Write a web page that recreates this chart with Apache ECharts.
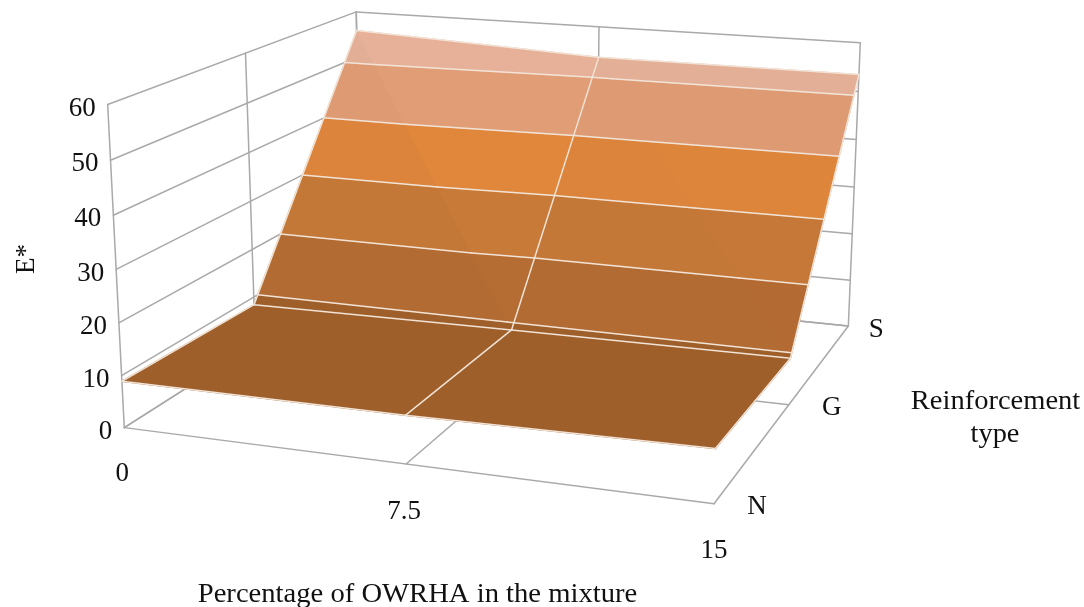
<!DOCTYPE html>
<html><head><meta charset="utf-8">
<style>html,body{margin:0;padding:0;background:#fff}#c{width:1084px;height:607px}</style>
<script src="https://cdn.jsdelivr.net/npm/echarts@6/dist/echarts.min.js"></script></head>
<body><div id="c"></div>
<script>
// ---- data ----
const percentages = ['0', '7.5', '15'];
const reinforcement = ['N', 'G', 'S'];
const zTicks = [0, 10, 20, 30, 40, 50, 60];
const eN = [8.9, 9.0, 9.8];
const eG = [8.4, 8.9, 9.2];
const eS = [55.9, 53.5, 53.5];
const values = [eN, eG, eS];
const bandColors = ['#9e5f2b', '#b26b33', '#c47838', '#dc843b', '#dd9a73', '#e2ae96'];
const zMax = 60;

// ---- camera calibration: cube coordinate -> page pixel ----
const calib = [
  [0,0,0,122,429],[1,0,0,714,503],[1,1,0,848,327],[0,1,0,363,275],
  [0,0,1,108,105],[0,1,1,355,13],[1,1,1,861,42],[.5,0,0,407,464],
  [.5,1,1,599,27],[0,.5,1,245,53],[1,.5,0,788,405],
  [0,0,5/6,111,160],[0,0,3/6,117,268],[0,0,2/6,119,323],[0,0,1/6,122,376]
];
function solveCamera(pts){
  const n=11,A=[],rows=[];
  pts.forEach(([X,Y,Z,u0,v0])=>{
    const u=u0/1000,v=v0/1000;
    rows.push([X,Y,Z,1,0,0,0,0,-u*X,-u*Y,-u*Z,u]);
    rows.push([0,0,0,0,X,Y,Z,1,-v*X,-v*Y,-v*Z,v]);
  });
  for(let i=0;i<n;i++){A.push(new Array(n+1).fill(0));}
  rows.forEach(r=>{for(let i=0;i<n;i++)for(let j=0;j<=n;j++)A[i][j]+=r[i]*r[j];});
  for(let i=0;i<n;i++){
    let p=i;for(let k=i+1;k<n;k++)if(Math.abs(A[k][i])>Math.abs(A[p][i]))p=k;
    [A[i],A[p]]=[A[p],A[i]];
    for(let k=0;k<n;k++){if(k===i)continue;const f=A[k][i]/A[i][i];for(let j=i;j<=n;j++)A[k][j]-=f*A[i][j];}
  }
  return A.map((r,i)=>r[n]/r[i]);
}
const P=solveCamera(calib);
function proj(x,y,z){
  const w=P[8]*x+P[9]*y+P[10]*z+1;
  return [1000*(P[0]*x+P[1]*y+P[2]*z+P[3])/w,1000*(P[4]*x+P[5]*y+P[6]*z+P[7])/w];
}
const px=i=>i/(percentages.length-1), py=j=>j/(reinforcement.length-1);

// ---- frame segments ----
const frame=[];
const seg=(a,b)=>frame.push([proj(...a),proj(...b)]);
zTicks.forEach(t=>{const z=t/zMax;seg([0,0,z],[0,1,z]);seg([0,1,z],[1,1,z]);});
reinforcement.forEach((_,j)=>{seg([0,py(j),0],[0,py(j),1]);seg([0,py(j),0],[1,py(j),0]);});
percentages.forEach((_,i)=>{seg([px(i),0,0],[px(i),1,0]);seg([px(i),1,0],[px(i),1,1]);});

// ---- surface: triangles clipped into value bands ----
function shade(hex,s){
  const n=parseInt(hex.slice(1),16);
  const f=c=>Math.min(255,Math.round(c*(1+s)));
  return 'rgb('+f(n>>16)+','+f((n>>8)&255)+','+f(n&255)+')';
}
function clip(poly,level,keepAbove){
  const out=[];
  for(let i=0;i<poly.length;i++){
    const a=poly[i],b=poly[(i+1)%poly.length];
    const ia=keepAbove?a[2]>=level:a[2]<=level, ib=keepAbove?b[2]>=level:b[2]<=level;
    if(ia)out.push(a);
    if(ia!==ib){const t=(level-a[2])/(b[2]-a[2]);out.push([a[0]+t*(b[0]-a[0]),a[1]+t*(b[1]-a[1]),level]);}
  }
  return out;
}
const V=(i,j)=>[px(i),py(j),values[j][i]];
const tris=[];
for(let j=0;j<reinforcement.length-1;j++)for(let i=0;i<percentages.length-1;i++){
  // diagonal runs from (i, j+1) to (i+1, j); the far triangle of the steep row catches more light
  const bright=(j===1)?(i===0?0.02:0.004):0;
  tris.push({p:[V(i,j),V(i+1,j),V(i,j+1)],s:0});
  tris.push({p:[V(i+1,j),V(i+1,j+1),V(i,j+1)],s:bright});
}
const polys=[],bandLines=[];
tris.forEach(T=>{
  bandColors.forEach((col,b)=>{
    const lo=b*10,hi=(b+1)*10;
    let poly=clip(T.p,lo,true);
    if(poly.length)poly=clip(poly,hi,false);
    if(poly.length>=3)polys.push({pts:poly.map(q=>proj(q[0],q[1],q[2]/zMax)),color:shade(col,T.s)});
  });
  zTicks.forEach(t=>{
    const hits=[];
    for(let k=0;k<3;k++){
      const a=T.p[k],c=T.p[(k+1)%3];
      if((a[2]-t)*(c[2]-t)<0){const f=(t-a[2])/(c[2]-a[2]);hits.push(proj(a[0]+f*(c[0]-a[0]),a[1]+f*(c[1]-a[1]),t/zMax));}
    }
    if(hits.length===2)bandLines.push(hits);
  });
});
// mesh lines and outline
const nI=percentages.length,nJ=reinforcement.length;
const mesh=[];
const P3=(i,j)=>{const v=V(i,j);return proj(v[0],v[1],v[2]/zMax);};
for(let j=0;j<nJ;j++)for(let i=0;i<nI-1;i++)mesh.push([P3(i,j),P3(i+1,j)]);
for(let i=0;i<nI;i++)for(let j=0;j<nJ-1;j++)mesh.push([P3(i,j),P3(i,j+1)]);

// ---- text ----
const font=s=>s+'px "Liberation Serif","Times New Roman",serif';
const labels=[];
zTicks.forEach(t=>{const q=proj(0,0,t/zMax);labels.push({t:String(t),x:q[0]-12,y:q[1]+4,a:'right'});});
const xOff=[[-2,46],[-2,48],[0,47]];
percentages.forEach((s,i)=>{const q=proj(px(i),0,0);labels.push({t:s,x:q[0]+xOff[i][0],y:q[1]+xOff[i][1],a:'center'});});
const yOff=[[43,3],[43,3],[28,4]];
reinforcement.forEach((s,j)=>{const q=proj(1,py(j),0);labels.push({t:s,x:q[0]+yOff[j][0],y:q[1]+yOff[j][1],a:'center'});});
labels.push({t:'Percentage of OWRHA in the mixture',x:417.5,y:595,a:'center',sx:1.06});
labels.push({t:'Reinforcement',x:995.5,y:402,a:'center',sx:1.056});
labels.push({t:'type',x:995,y:435,a:'center',sx:1.05});
labels.push({t:'E*',x:27,y:259,a:'center',r:Math.PI/2});

const lineSeries=(name,data,color,width,z)=>({
  type:'custom',name,coordinateSystem:'cartesian2d',silent:true,z,clip:false,
  data:data.map((_,i)=>[i]),
  renderItem:(params,api)=>{
    const s=data[api.value(0)],a=api.coord(s[0]),b=api.coord(s[1]);
    return {type:'line',shape:{x1:a[0],y1:a[1],x2:b[0],y2:b[1]},style:{stroke:color,lineWidth:width,lineCap:'round'}};
  }
});
const option={
  animation:false,
  backgroundColor:'#fff',
  grid:{left:0,right:0,top:0,bottom:0},
  xAxis:{type:'value',min:0,max:1084,show:false},
  yAxis:{type:'value',min:0,max:607,inverse:true,show:false},
  series:[
    lineSeries('frame',frame,'#a9a9a9',1.5,1),
    {type:'custom',name:'surface',coordinateSystem:'cartesian2d',silent:true,z:2,clip:false,
     data:polys.map((_,i)=>[i]),
     renderItem:(params,api)=>{
       const p=polys[api.value(0)];
       return {type:'polygon',shape:{points:p.pts.map(q=>api.coord(q))},style:{fill:p.color,stroke:p.color,lineWidth:1.2,lineJoin:'round'}};
     }},
    lineSeries('bands',bandLines,'#f1e3d6',1.5,3),
    lineSeries('mesh',mesh,'#f1e3d6',1.5,3),
    {type:'custom',name:'text',coordinateSystem:'cartesian2d',silent:true,z:4,clip:false,
     data:labels.map((_,i)=>[i]),
     renderItem:(params,api)=>{
       const l=labels[api.value(0)],c=api.coord([l.x,l.y]);
       return {type:'text',x:c[0],y:c[1],rotation:l.r||0,scaleX:l.sx||1,
         style:{text:l.t,font:font(27),fill:'#111',textAlign:l.a,textVerticalAlign:'middle'}};
     }}
  ]
};
echarts.init(document.getElementById('c'),null,{renderer:'canvas'}).setOption(option);
</script></body></html>
